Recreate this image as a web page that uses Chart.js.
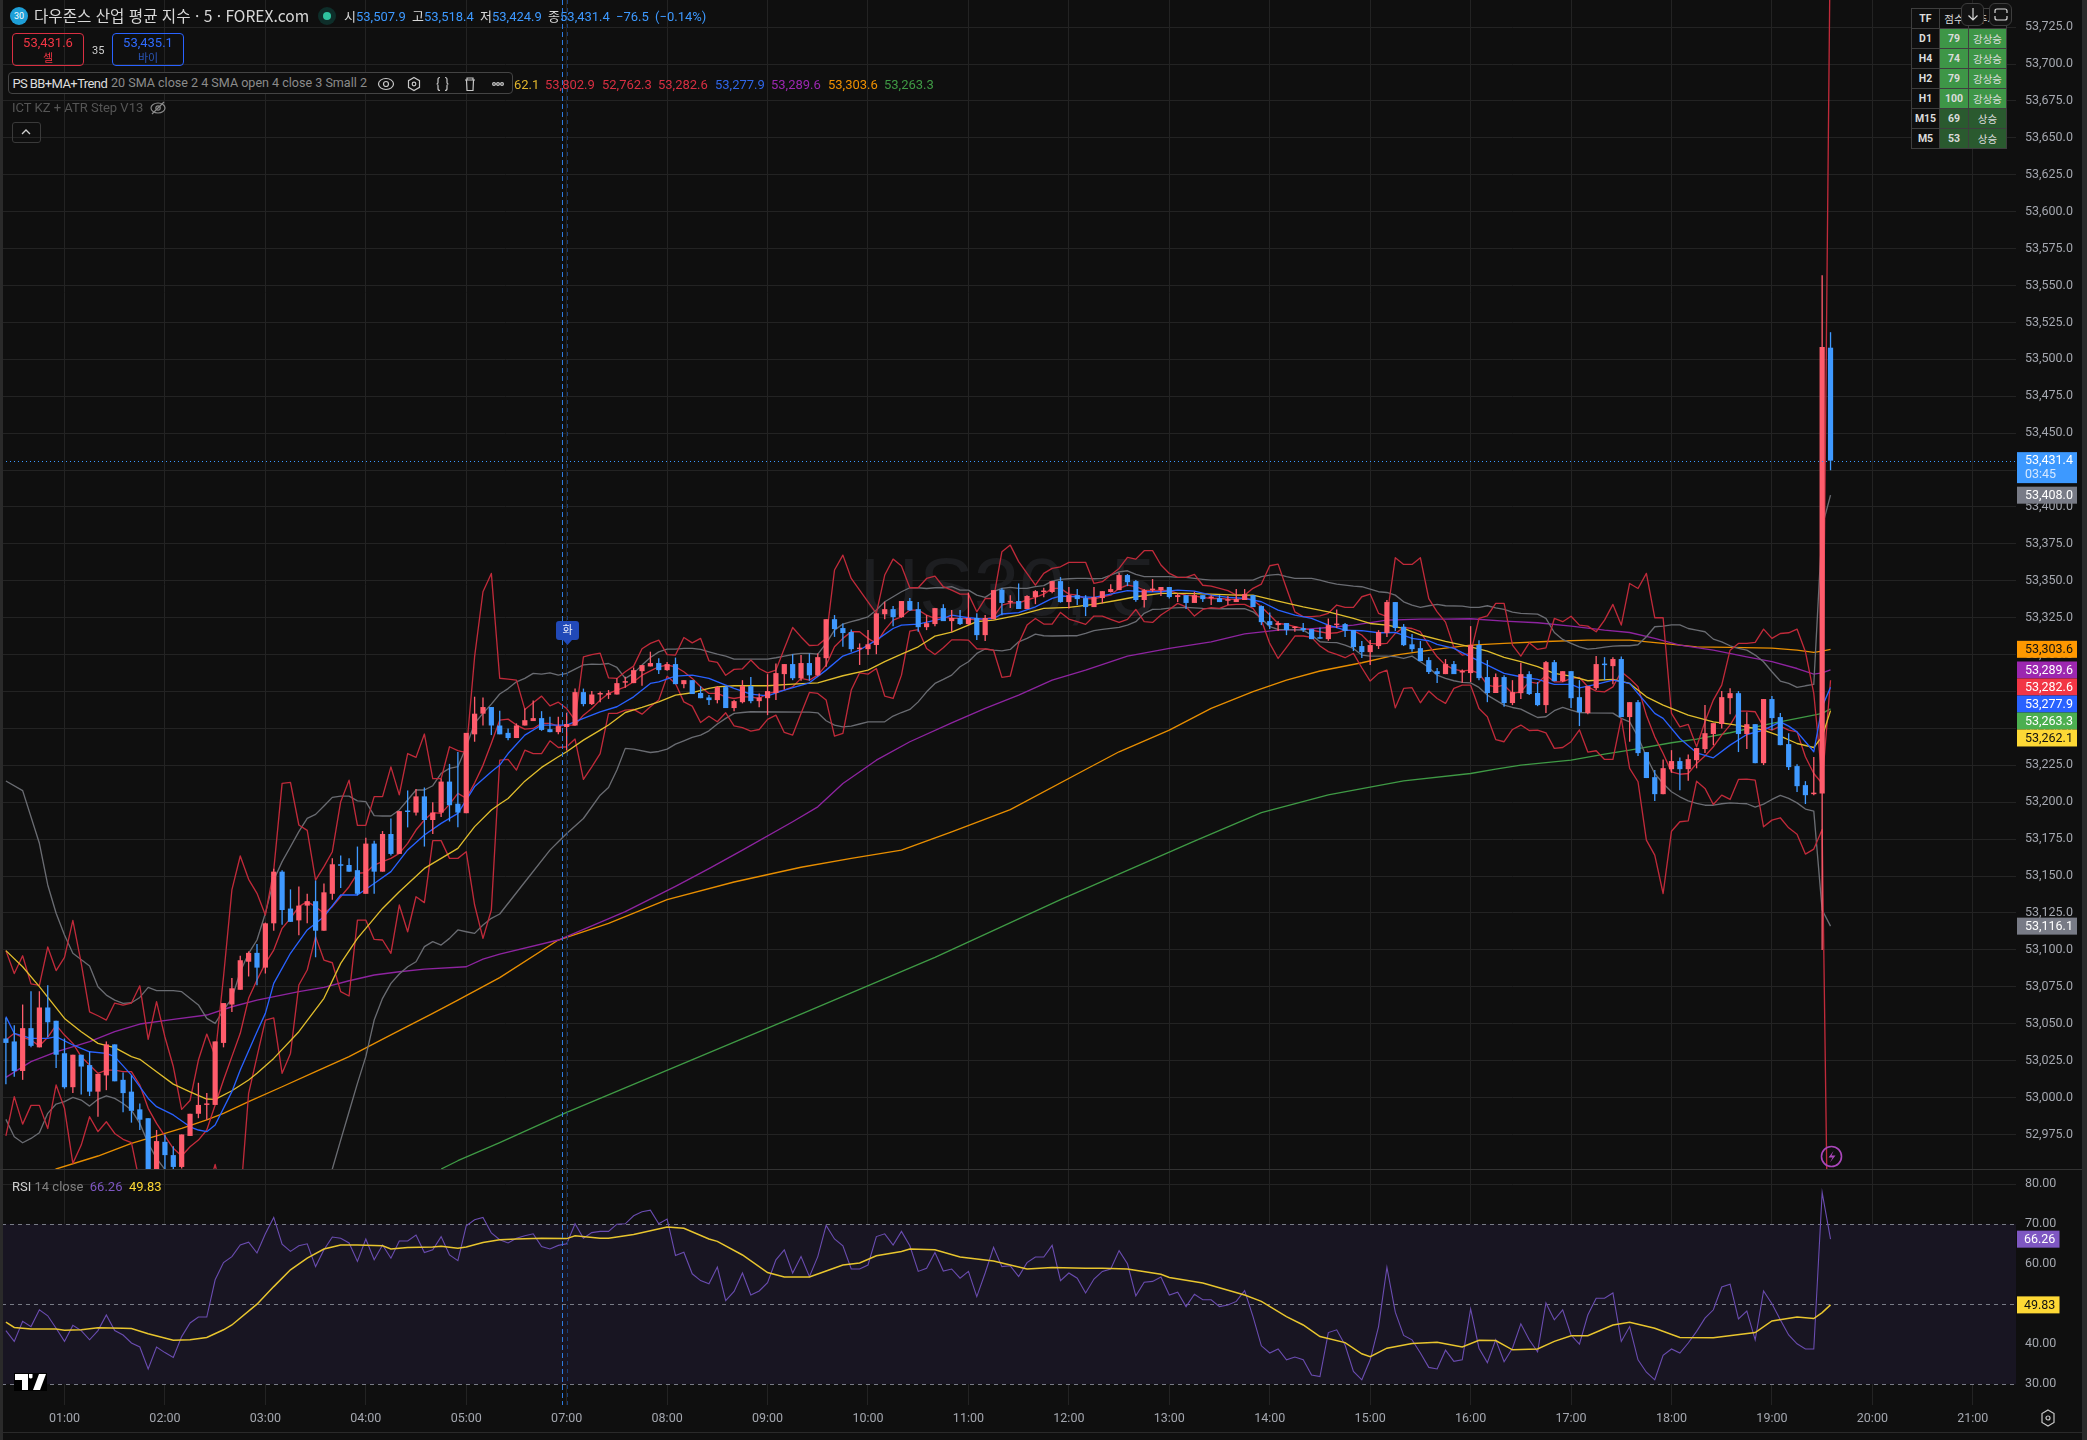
<!DOCTYPE html>
<html lang="ko">
<head>
<meta charset="utf-8">
<title>US30, 5</title>
<script src="https://cdn.jsdelivr.net/npm/chart.js@4"></script>
<style>
  html, body { margin: 0; padding: 0; background: #0f0f0f; }
  #page { position: relative; width: 2087px; height: 1440px; overflow: hidden; background: #0f0f0f;
          font-family: Roboto, "Noto Sans CJK KR", sans-serif; }
  #page > * { position: absolute; }
  canvas { display: block; }
  .t { white-space: nowrap; line-height: 1; }
  .blue { color: #3d99ff; }
  .w { color: #d8d8d8; }
  #watermark { left: 0; width: 2016px; top: 540px; text-align: center; font: 82px "Liberation Sans", sans-serif; color: #1d1e21; }
  #priceBox { left: 0; top: 0; }
  #rsiBox { left: 0; top: 1169px; }
  .quote { box-sizing: border-box; width: 72px; height: 33px; top: 33px; border-radius: 4px; border: 1px solid; text-align: center; font-size: 13px; line-height: 15px; padding-top: 1px; }
  #tfTable { left: 1911px; top: 8px; border-collapse: collapse; font: bold 10.5px Roboto, "Noto Sans CJK KR", sans-serif; color: #dcdcdc; background: #0f0f0f; }
  #tfTable td { border: 1px solid #3e3e3e; height: 19px; padding: 0; text-align: center; }
  .tvBtn { box-sizing: border-box; width: 23px; height: 23px; top: 3px; background: #131313; border: 1px solid #3d3d3d; border-radius: 6px; }
  .edge { background: #2a2a2a; }
</style>
</head>
<body>
<div id="page">
  <div id="watermark">US30, 5</div>
  <canvas id="priceBox" width="2087" height="1169"></canvas>
  <canvas id="rsiBox" width="2087" height="271"></canvas>

  <div class="edge" style="left:0;top:0;width:3px;height:1440px"></div>
  <div class="edge" style="left:2082px;top:0;width:5px;height:1440px"></div>
  <div class="edge" style="left:0;top:1432px;width:2087px;height:1px"></div>
  <div style="left:0;top:1169px;width:2082px;height:1px;background:#333"></div>

  <div style="left:10px;top:7px;width:18px;height:18px;border-radius:50%;background:#1e9fd8;color:#fff;font-size:9px;line-height:18px;text-align:center">30</div>
  <div class="t w" style="left:34px;top:8px;font-size:15.6px;font-family:'Noto Sans CJK KR'">다우존스 산업 평균 지수 · 5 · FOREX.com</div>
  <div style="left:318px;top:7px;width:18px;height:18px;border-radius:50%;background:#0e2e2a"></div>
  <div style="left:323px;top:12px;width:8px;height:8px;border-radius:50%;background:#2ec4a0"></div>
  <div class="t w" style="left:344px;top:10px;font-size:13px;word-spacing:3px;font-family:Roboto,'Noto Sans CJK KR'">시<span class="blue">53,507.9</span> 고<span class="blue">53,518.4</span> 저<span class="blue">53,424.9</span> 종<span class="blue">53,431.4</span> <span class="blue">−76.5 (−0.14%)</span></div>

  <div class="quote" style="left:12px;border-color:#d92f42;color:#f23645">53,431.6<br><span style="font-size:11px;font-family:'Noto Sans CJK KR'">셀</span></div>
  <div class="t" style="left:92px;top:45px;font-size:11px;color:#d0d0d0">35</div>
  <div class="quote" style="left:112px;border-color:#2962ff;color:#2f6bff">53,435.1<br><span style="font-size:11px;font-family:'Noto Sans CJK KR';color:#2a55b8">바이</span></div>

  <div style="left:8px;top:72px;width:505px;height:22px;box-sizing:border-box;border:1px solid #444;border-radius:4px;background:#0f0f0f"></div>
  <div class="t" style="left:12.500px;top:77px;font-size:13px;letter-spacing:-0.6px;color:#ddd">PS BB+MA+Trend</div>
  <div class="t" style="left:111px;top:77px;font-size:12.55px;color:#8b8b8b">20 SMA close 2 4 SMA open 4 close 3 Small 2</div>
  <svg style="left:376px;top:74px" width="134" height="20" fill="none" stroke="#c8c8c8" stroke-width="1.2">
    <ellipse cx="10" cy="10" rx="7.5" ry="5.5"/><circle cx="10" cy="10" r="2.5"/>
    <path d="M38 3.5l5.5 3.2v6.6L38 16.5l-5.500-3.200V6.700z"/><circle cx="38" cy="10" r="1.800"/>
    <path d="M64 3.500q-2 0-2 2v3q0 1.500-1.500 1.500 1.500 0 1.500 1.500v3q0 2 2 2M69 3.500q2 0 2 2v3q0 1.500 1.500 1.500-1.500 0-1.500 1.500v3q0 2-2 2"/>
    <path d="M89 6h10M91 6V4h6v2M90.500 6l.5 10.500h6l.5-10.500"/>
    <circle cx="118" cy="10" r="1.400"/><circle cx="122" cy="10" r="1.400"/><circle cx="126" cy="10" r="1.400"/>
  </svg>
  <div class="t" style="left:514px;top:78px;font-size:13px;color:#e0b52c">62.1</div>
  <div class="t" style="left:545px;top:78px;font-size:13px;color:#d92f42">53,802.9</div>
  <div class="t" style="left:602px;top:78px;font-size:13px;color:#d92f42">52,762.3</div>
  <div class="t" style="left:658px;top:78px;font-size:13px;color:#d92f42">53,282.6</div>
  <div class="t" style="left:715px;top:78px;font-size:13px;color:#2f66e8">53,277.9</div>
  <div class="t" style="left:771px;top:78px;font-size:13px;color:#9c27b0">53,289.6</div>
  <div class="t" style="left:828px;top:78px;font-size:13px;color:#ef9000">53,303.6</div>
  <div class="t" style="left:884px;top:78px;font-size:13px;color:#3f9a45">53,263.3</div>

  <div class="t" style="left:12px;top:101px;font-size:13px;color:#555">ICT KZ + ATR Step V13</div>
  <svg style="left:149px;top:99px" width="18" height="18" fill="none" stroke="#8a8a8a" stroke-width="1.2">
    <ellipse cx="9" cy="9" rx="7" ry="5"/><circle cx="9" cy="9" r="2.200"/><path d="M3 15L15 3"/>
  </svg>
  <div style="left:12px;top:122px;width:29px;height:21px;box-sizing:border-box;border:1px solid #3a3a3a;border-radius:3px"></div>
  <svg style="left:20px;top:127px" width="12" height="10" fill="none" stroke="#d0d0d0" stroke-width="1.300"><path d="M2 7l4-4 4 4"/></svg>

  <table id="tfTable"></table>
  <div class="tvBtn" style="left:1961px"></div>
  <svg style="left:1966px;top:6px" width="14" height="16" fill="none" stroke="#d8d8d8" stroke-width="1.200"><path d="M7 2v12M2.500 9.500L7 14l4.500-4.500"/></svg>
  <div class="tvBtn" style="left:1989px"></div>
  <svg style="left:1994px;top:8px" width="14" height="13" fill="none" stroke="#d8d8d8" stroke-width="1.200"><path d="M1 5V3q0-2 2-2h8q2 0 2 2v2M1 8v2q0 2 2 2h8q2 0 2-2V8"/></svg>

  <svg style="left:556px;top:621px" width="23" height="25"><path d="M3 0h17q3 0 3 3v13q0 3-3 3h-4l-4.500 5L7 19H3q-3 0-3-3V3q0-3 3-3z" fill="#2149b8"/></svg>
  <div class="t" style="left:556px;top:624px;width:23px;text-align:center;font-size:11px;font-family:'Noto Sans CJK KR';color:#e8ecf8">화</div>

  <svg style="left:1820px;top:1145px" width="23" height="23" fill="none" stroke="#ab47bc" stroke-width="1.600">
    <circle cx="11.500" cy="11.500" r="10"/><path d="M13.500 6l-5 6.500h4l-2.500 5 5.500-7h-4z" fill="#ab47bc" stroke="none"/>
  </svg>

  <div class="t" style="left:12px;top:1180px;font-size:13px;color:#d0d0d0">RSI <span style="color:#808080">14 close</span>&nbsp; <span style="color:#7e57c2">66.26</span>&nbsp; <span style="color:#fdd835">49.83</span></div>

  <svg style="left:14px;top:1373px" width="33" height="18"><rect width="33" height="18" fill="#000"/>
    <path d="M1 1h13v16H8V7H1zM15 1h3.500v3.500a2 2 0 0 1-3.500 0zM25 1h7l-6 16h-7z" fill="#fff"/></svg>

  <svg style="left:2039px;top:1408px" width="18" height="20" fill="none" stroke="#c8c8c8" stroke-width="1.200">
    <path d="M9 2l6 3.500 0 9L9 18l-6-3.500 0-9z"/><circle cx="9" cy="10" r="2"/>
  </svg>
</div>

<script>
// time axis: one slot per 5 minute bar
const hourBars = [7, 19, 31, 43, 55, 67, 79, 91, 103, 115, 127, 139, 151, 163, 175, 187, 199, 211, 223, 235];
const hourLabels = ['01:00', '02:00', '03:00', '04:00', '05:00', '07:00', '08:00', '09:00', '10:00', '11:00', '12:00', '13:00', '14:00', '15:00', '16:00', '17:00', '18:00', '19:00', '20:00', '21:00'];

const priceTicks = [52975, 53000, 53025, 53050, 53075, 53100, 53125, 53150, 53175, 53200, 53225, 53250, 53275, 53300, 53325, 53350, 53375, 53400, 53425, 53450, 53475, 53500, 53525, 53550, 53575, 53600, 53625, 53650, 53675, 53700, 53725];
const rsiTicks = [30, 40, 50, 60, 70, 80];
const rsiDashed = [70, 50, 30];

const opens = [
  53040,53038,53018,53047,53034,53061,53052,53030,53007,53029,
  53022,53004,53015,53036,53012,53004,52992,52986,52948,52970,
  52961,52953,52974,52989,52995,52995,53037,53063,53073,53092,
  53098,53088,53118,53153,53128,53120,53130,53133,53113,53138,
  53158,53157.5,53154,53138,53172,53153,53178.5,53165,53194,53193,
  53204,53188,53193,53214,53199,53192.6,53246,53260,53264.5,53252,
  53247,53243.5,53252,53255,53257,53249.5,53247.5,53251,53252,53274.6,
  53266.5,53273,53272.8,53273,53281,53280.7,53288.8,53292,53294.3,53289.5,
  53293.6,53280,53282.7,53274,53271,53269.2,53278,53263.8,53267.8,53278.7,
  53268.5,53270.5,53274,53286.8,53293.6,53284,53294.3,53286,53297.6,53324,
  53318,53315.3,53303.7,53303.7,53306.5,53327.4,53330.8,53325.4,53336.3,53330.8,
  53318.6,53320.7,53331.5,53322.7,53324.8,53320.7,53324.8,53313.2,53324,53344,
  53335.4,53336.3,53330.9,53339,53342.4,53342.4,53349.8,53335.6,53340.3,53338.3,
  53332.2,53338.3,53342.4,53343.7,53353.9,53349.8,53337,53343.7,53343.7,53345.8,
  53339,53340.3,53335,53340.3,53338.3,53338.3,53336.5,53335.6,53337,53340.3,
  53332.9,53322.7,53320,53321.4,53318,53318,53317.3,53311.2,53310.5,53320,
  53320.7,53316.6,53305.8,53301.7,53305.8,53314.6,53335.6,53318.9,53307,53304.4,
  53296.3,53288.8,53286.8,53293.6,53287.9,53287.5,53306.5,53284.8,53274,53284.8,
  53267.2,53273.9,53286.8,53274,53265.8,53294.9,53282,53288.8,53271.2,53260.4,
  53277.3,53293.6,53292.2,53297,53257.7,53267.8,53234,53217,53205.5,53222.4,
  53227.9,53222.4,53228.5,53236,53246.2,53253,53270.5,53273.9,53246.2,53252.9,
  53226.5,53269.9,53257.7,53239.4,53224.5,53211.6,53205.5,53206,53507.9
];
const closes = [
  53037,53018,53047,53035,53061,53051,53029,53007,53029,53021,
  53004,53016,53036,53011,53003,52991,52985,52945,52970.5,52961,
  52953,52975,52989,52995,52995.4,53038,53064,53074,53093,53098,
  53088,53118,53153,53127,53119,53130,53133,53113,53139,53158,
  53157,53153,53138,53172,53153,53178.5,53165,53194,53193.4,53204,
  53188,53193,53214,53198,53193,53247,53260,53264.5,53252,53246,
  53243.5,53252,53255.6,53257,53249,53247.5,53251.6,53253,53274.6,53266.5,
  53273,53274,53273.2,53280.7,53281.4,53289.5,53292.9,53294.3,53289.5,53293.6,
  53280,53282.7,53273.3,53270.5,53269.2,53278,53263.8,53268.5,53278.7,53268.5,
  53271,53275.3,53287.5,53293.6,53284,53294.3,53286,53298.3,53324,53317.3,
  53314.6,53303.7,53304.4,53307,53328,53330.8,53325.4,53336.3,53330,53318.6,
  53321.3,53331.5,53322.7,53324.8,53320.7,53324.8,53313.2,53324.8,53343.7,53335,
  53336.3,53330.9,53339.7,53343,53343.3,53349.8,53335.6,53340.3,53337.6,53332.2,
  53339,53343,53344.4,53353.9,53349.1,53337,53343.7,53344.2,53345.8,53339,
  53340.3,53335,53340.3,53337.6,53338.8,53335.6,53337,53337.6,53341,53332.2,
  53322,53320,53321.4,53316.6,53318.4,53316.6,53310.5,53310.8,53320,53320.5,
  53316,53305.1,53301.7,53306.5,53315.3,53335.6,53318,53306.4,53303.7,53295.6,
  53288.2,53286.8,53293.6,53286.8,53288.5,53306.5,53284.1,53274,53284.8,53267.2,
  53274.6,53286.8,53273.3,53265.8,53294.9,53282,53288.8,53270.5,53261,53278.7,
  53293.6,53292.9,53297,53257.7,53267.8,53233.3,53216.4,53205.5,53223.1,53227.9,
  53222.4,53229.2,53236.7,53246.8,53253.6,53271.2,53273.9,53246.2,53252.9,53226.5,
  53269.9,53257,53238.7,53223.8,53210.9,53204.8,53206.2,53508.3,53431.4
];
const highs = [
  53054,53049,53063,53072,53072,53076,53052,53040,53029,53029,
  53031,53016,53038,53036,53017,53015,52996,52986,52978,52975,
  52967,52975,52989,53010,53003,53038,53064,53081,53096,53099,
  53104,53118.5,53155,53154,53141,53143,53138,53147,53145,53162,
  53164,53162,53170,53176,53174,53180.5,53189,53194,53208,53209,
  53210,53200,53216,53226,53234,53247,53271.5,53271,53264.5,53262,
  53250,53253.4,53263.5,53269,53261.7,53258,53258,53260.6,53277,53277,
  53275.3,53275,53276,53284,53285,53291.3,53292.9,53302,53297.6,53295,
  53298,53282.7,53282.7,53278.7,53272.6,53278.7,53278.7,53269.2,53282.7,53284.8,
  53273.7,53286.8,53294,53293.6,53300.3,53299.7,53300.8,53300.8,53324,53326.8,
  53321,53317,53307.6,53316.6,53328,53335.8,53332.9,53336.3,53338.3,53335.6,
  53326.8,53331.5,53334.2,53330.2,53330.2,53342,53328,53326.8,53343.7,53344.9,
  53340.3,53348.2,53340.3,53343.7,53345.3,53349.8,53352.5,53345.8,53344.4,53340.3,
  53345.8,53343,53347.6,53355.5,53354.6,53350.5,53344.4,53351.2,53345.8,53345.8,
  53341.5,53340.3,53342.6,53340.3,53340.3,53340.3,53339.7,53344.4,53344.4,53340.3,
  53333.3,53328.6,53322.7,53321.4,53319.3,53321.4,53317.3,53318.4,53324.5,53330.6,
  53321.4,53316.6,53309.2,53309.9,53316.6,53337,53335.6,53320.7,53313.9,53309.2,
  53298.3,53290.9,53297,53295.6,53290,53319.3,53309.8,53296.3,53287.3,53286.1,
  53282.7,53294.5,53288.8,53281.4,53295.6,53296.3,53288.8,53288.8,53282.7,53278.7,
  53299,53298.3,53298.3,53298.8,53267.8,53269.2,53234,53221.8,53229,53235.3,
  53230.4,53232.4,53236.7,53265.8,53253.6,53275.3,53277.3,53275.3,53261,53252.9,
  53269.9,53271.9,53260.4,53246.8,53225.8,53214.3,53230.6,53557,53518.4
];
const lows = [
  53009,53014,53012,53034,53034,53041,53020,53006,53003,53002,
  53001,52987,53005,53011,52990,52983,52978,52940,52940,52945,
  52948,52952,52974,52986,52985,52995,53034,53058,53073,53082,
  53076,53084,53113,53117,53119,53110,53118,53095,53113,53134,
  53142,53153,53137,53138,53138,53153,53164,53165,53183,53191,
  53170,53178.5,53190,53187,53183,53192.6,53241,53252,53245.5,53246,
  53242,53243.5,53252,53255,53248.4,53247.5,53246,53235,53252,53265,
  53265.8,53267.8,53270,53273,53277.5,53280.7,53279,53292,53286.8,53289,
  53280,53277.3,53273.3,53270.5,53265.8,53267,53263.8,53261.7,53267,53267,
  53264.4,53259,53269.2,53276.4,53282.7,53282.3,53282.3,53285.4,53291.8,53312,
  53305.3,53302,53293,53299.7,53300.3,53324,53319.3,53325,53329.5,53315.5,
  53316.6,53319.3,53322.7,53315.5,53320,53320,53309.9,53309.2,53324,53326.6,
  53331.5,53330.9,53330.9,53334.2,53338.8,53341.5,53335.2,53331.3,53333.6,53326.1,
  53332.2,53334.7,53342,53343.7,53346.4,53335.8,53332,53342.4,53339.7,53338,
  53335.6,53330.9,53335,53335.6,53333.6,53335.6,53333.6,53335.6,53337,53332.2,
  53320,53317.3,53316,53313.2,53315.5,53315.3,53310.5,53310.8,53309.4,53318,
  53312,53302.4,53297.7,53293,53303.8,53311.9,53316,53305.8,53301.9,53295.6,
  53286.8,53280.7,53286.8,53286.8,53281,53281.4,53282.7,53267.8,53274,53264.7,
  53265.8,53269.9,53272.6,53265.1,53260.4,53282,53281.4,53263.8,53251.6,53259.7,
  53276,53282.7,53280,53257.7,53241,53231.3,53216.4,53200.8,53205.5,53220,
  53208.2,53214.5,53223,53233.3,53238.7,53250,53259.7,53234,53236,53226.5,
  53225.2,53248.9,53238.7,53221.8,53206.9,53198.8,53204.8,53100,53424.9
];

const redUpper = [[0,53099.5],[1,53084],[2,53096],[3,53077],[4,53076],[5,53102],[6,53086],[7,53095],[8,53120],[9,53091],[10,53058],[11,53055.4],[12,53052.5],[13,53064],[14,53062.6],[15,53064],[16,53075.7],[17,53039.4],[18,53065],[19,53041],[20,53021],[21,52992],[22,52998],[23,53025.4],[24,53043],[25,53028],[26,53081.8],[27,53140.6],[28,53163.6],[29,53147.8],[30,53138.3],[31,53123.6],[32,53154],[33,53212.8],[34,53213.5],[35,53184.6],[36,53181],[37,53147.3],[38,53156.4],[39,53166.5],[40,53200.4],[41,53215],[42,53184.4],[43,53184.4],[44,53203.8],[45,53203.8],[46,53224],[47,53205],[48,53233],[49,53230.4],[50,53246.2],[51,53216],[52,53216],[53,53237.6],[54,53235],[55,53233.6],[56,53298.6],[57,53342.6],[58,53355],[59,53284],[60,53283.4],[61,53282.7],[62,53262.9],[63,53267.4],[64,53271.9],[65,53265.3],[66,53267.8],[67,53263.5],[68,53255.6],[69,53298.5],[70,53300],[71,53301],[72,53284.3],[73,53283.9],[74,53288.4],[75,53292.2],[76,53304],[77,53307.6],[78,53309.8],[79,53300],[80,53299.7],[81,53311.6],[82,53308],[83,53311],[84,53295.8],[85,53294.7],[86,53286],[87,53290],[88,53290.4],[89,53296.3],[90,53290.6],[91,53287.7],[92,53289.5],[93,53304.2],[94,53318.4],[95,53312],[96,53306.2],[97,53306.4],[98,53311],[99,53357.3],[100,53367.4],[101,53351.6],[102,53343.7],[103,53335.8],[104,53327.9],[105,53353.9],[106,53364.7],[107,53360],[108,53345.3],[109,53345.3],[110,53351.6],[111,53353.2],[112,53346],[113,53343.7],[114,53341],[115,53341],[116,53329],[117,53338],[118,53338],[119,53369.7],[120,53374.2],[121,53363],[122,53355],[123,53347],[124,53355],[125,53358.4],[126,53359.5],[127,53362.5],[128,53362.5],[129,53362.5],[130,53348.2],[131,53349.4],[132,53354],[133,53358.4],[134,53365.9],[135,53364.7],[136,53370.4],[137,53370.4],[138,53360.7],[139,53355],[140,53352.3],[141,53352.3],[142,53354.3],[143,53347],[144,53346.4],[145,53344.9],[146,53343.3],[147,53340.3],[148,53340.3],[149,53344.9],[150,53347.8],[151,53360.2],[152,53361.3],[153,53344.9],[154,53329],[155,53325.7],[156,53325.7],[157,53326.3],[158,53328],[159,53333.6],[160,53332],[161,53332],[162,53339.2],[163,53341],[164,53328],[165,53325.7],[166,53365.6],[167,53361.1],[168,53361.1],[169,53365.6],[170,53338],[171,53329],[172,53322],[173,53305],[174,53299.7],[175,53300.8],[176,53324.5],[177,53326.3],[178,53334.7],[179,53334.7],[180,53306.4],[181,53299],[182,53308],[183,53303.5],[184,53304.6],[185,53324.5],[186,53322.3],[187,53326],[188,53320],[189,53319.3],[190,53315.5],[191,53323.4],[192,53334],[193,53320],[194,53348.2],[195,53344.8],[196,53355],[197,53325],[198,53325],[199,53260.2],[200,53251.1],[201,53252.7],[202,53237.6],[203,53254.5],[204,53269.2],[205,53279.3],[206,53303],[207,53307.6],[208,53307.6],[209,53308.3],[210,53317.3],[211,53311],[212,53314.3],[213,53314.8],[214,53317.3],[215,53302],[216,53273.7],[217,53215],[218,53802.9]];
const redLower = [[0,52974],[1,53000.6],[2,52982],[3,52994.7],[4,52994.7],[5,52979],[6,53008.5],[7,52992.7],[8,52955.4],[9,52967.8],[10,52987],[11,52976.9],[12,52983.6],[13,52975.7],[14,52971.7],[15,52969.4],[16,52942],[17,52954],[18,52940],[19,52930],[20,52925],[21,52925],[22,52930],[23,52932],[24,52935],[25,52954.7],[26,52930],[27,52925],[28,52930],[29,53002.8],[30,53027.7],[31,53052.5],[32,53054],[33,53016.4],[34,53029.9],[35,53076.2],[36,53086.4],[37,53109],[38,53093.1],[39,53091.3],[40,53071.7],[41,53068.8],[42,53120.2],[43,53120.2],[44,53107.1],[45,53106.7],[46,53097.7],[47,53130.4],[48,53112.3],[49,53136],[50,53132],[51,53174],[52,53174],[53,53162],[54,53162],[55,53166.5],[56,53130.4],[57,53107.8],[58,53127],[59,53228.5],[60,53229],[61,53221.8],[62,53235.3],[63,53233],[64,53233],[65,53241.6],[66,53237.1],[67,53237.6],[68,53242.8],[69,53215.5],[70,53224],[71,53233],[72,53260.2],[73,53260.2],[74,53262.4],[75,53262.9],[76,53259.7],[77,53264.7],[78,53269.2],[79,53285.4],[80,53280.5],[81,53268],[82,53265.1],[83,53254],[84,53258.3],[85,53254.5],[86,53260.6],[87,53251.8],[88,53250.5],[89,53248.2],[90,53249.3],[91,53256.1],[92,53259],[93,53247.3],[94,53245.5],[95,53260.2],[96,53274.4],[97,53273.7],[98,53269.2],[99,53244.8],[100,53246.6],[101,53276],[102,53287.7],[103,53286.8],[104,53290.6],[105,53271.9],[106,53270.3],[107,53286.1],[108,53315.9],[109,53317],[110,53304.2],[111,53300.1],[112,53304.6],[113,53310],[114,53310],[115,53309.8],[116,53304],[117,53303.8],[118,53303],[119,53284.6],[120,53285.5],[121,53307.6],[122,53320],[123,53324.5],[124,53320.7],[125,53320.7],[126,53328.6],[127,53324.1],[128,53322.3],[129,53320.5],[130,53326.1],[131,53326.1],[132,53323.9],[133,53321.8],[134,53323.9],[135,53330.6],[136,53322.3],[137,53321.8],[138,53326.8],[139,53330.6],[140,53334.7],[141,53332.4],[142,53326.1],[143,53330.6],[144,53331.8],[145,53331.3],[146,53333.6],[147,53334],[148,53334],[149,53331.3],[150,53323.4],[151,53307.6],[152,53297.4],[153,53304.9],[154,53312.6],[155,53312.6],[156,53311.7],[157,53305.8],[158,53302],[159,53300.2],[160,53297.9],[161,53300.8],[162,53291.1],[163,53282.1],[164,53287.3],[165,53289.5],[166,53264],[167,53277.1],[168,53277.6],[169,53267.4],[170,53275.3],[171,53270.3],[172,53267],[173,53277.1],[174,53279.3],[175,53279.3],[176,53263.5],[177,53257.9],[178,53242.5],[179,53241],[180,53249.3],[181,53252.3],[182,53248.6],[183,53248.9],[184,53247],[185,53236.5],[186,53237.1],[187,53241],[188,53249.1],[189,53234],[190,53234.9],[191,53229],[192,53229],[193,53256.8],[194,53222.9],[195,53213.9],[196,53174.4],[197,53164.2],[198,53138.2],[199,53180.4],[200,53186.8],[201,53187.4],[202,53214.3],[203,53209.4],[204,53198.5],[205,53204.8],[206,53201.9],[207,53215.5],[208,53215.7],[209,53215],[210,53183.4],[211,53187.9],[212,53189.5],[213,53182.7],[214,53178.4],[215,53164.9],[216,53168.3],[217,53181.6],[218,52762.3]];
const redMiddle = [[0,53039],[1,53043.5],[2,53040.8],[3,53039],[4,53034.9],[5,53040.8],[6,53049.1],[7,53042.3],[8,53036.7],[9,53027.7],[10,53022],[11,53016.4],[12,53018.6],[13,53018.6],[14,53017.5],[15,53017.5],[16,53008.5],[17,52992.7],[18,52982.5],[19,52973.9],[20,52965.6],[21,52960.4],[22,52966.7],[23,52971.2],[24,52978],[25,52994.9],[26,53011.9],[27,53027.7],[28,53043.5],[29,53067.2],[30,53079.6],[31,53090.9],[32,53099.9],[33,53114.6],[34,53121.4],[35,53129.3],[36,53132.7],[37,53129.3],[38,53124.8],[39,53129.3],[40,53136],[41,53142.8],[42,53151.9],[43,53152.3],[44,53157.5],[45,53159.8],[46,53162],[47,53165.4],[48,53172.2],[49,53181.2],[50,53188],[51,53193],[52,53192.5],[53,53198.6],[54,53206],[55,53202.7],[56,53213],[57,53225],[58,53240],[59,53255.6],[60,53256.3],[61,53252.3],[62,53249.5],[63,53250],[64,53253.4],[65,53253.4],[66,53251.6],[67,53252.3],[68,53252.3],[69,53259],[70,53263.5],[71,53269.2],[72,53273.7],[73,53276],[74,53278.2],[75,53281.6],[76,53286.1],[77,53289],[78,53291.8],[79,53292.9],[80,53291.8],[81,53288.4],[82,53283.9],[83,53278.2],[84,53273.7],[85,53273.7],[86,53271.4],[87,53270.3],[88,53271.4],[89,53271.4],[90,53270.3],[91,53273.7],[92,53274.8],[93,53276],[94,53278.2],[95,53283.9],[96,53282.7],[97,53286.1],[98,53292.9],[99,53305.3],[100,53311],[101,53315.5],[102,53315.5],[103,53311],[104,53307.6],[105,53316.6],[106,53323.4],[107,53325.6],[108,53330.2],[109,53330.2],[110,53326.8],[111,53324.5],[112,53325.6],[113,53324.5],[114,53324.5],[115,53324.3],[116,53323.4],[117,53324.1],[118,53325.6],[119,53333.6],[120,53335.1],[121,53335.1],[122,53337],[123,53338.8],[124,53341],[125,53344.9],[126,53344.9],[127,53341],[128,53340.3],[129,53338],[130,53337.8],[131,53339.2],[132,53340.3],[133,53344.9],[134,53347.1],[135,53346],[136,53343.7],[137,53343.3],[138,53343.7],[139,53343.3],[140,53341.5],[141,53340.3],[142,53339.7],[143,53338.8],[144,53338],[145,53338],[146,53337.6],[147,53337.4],[148,53338],[149,53337],[150,53332.4],[151,53326.8],[152,53321.1],[153,53320.5],[154,53318.9],[155,53317.8],[156,53316.6],[157,53315.5],[158,53314.4],[159,53314.8],[160,53316.6],[161,53316.2],[162,53313.3],[163,53307.6],[164,53307.2],[165,53307.6],[166,53314.4],[167,53318.4],[168,53317.7],[169,53315.5],[170,53306.4],[171,53298.5],[172,53292.9],[173,53290],[174,53289],[175,53289.5],[176,53287.3],[177,53279.3],[178,53278.2],[179,53279.3],[180,53273.7],[181,53274.8],[182,53281.6],[183,53280.5],[184,53286.1],[185,53281.6],[186,53281.6],[187,53283.9],[188,53284.5],[189,53278.2],[190,53275.3],[191,53274.8],[192,53278.2],[193,53288.4],[194,53283.9],[195,53278.2],[196,53259],[197,53244.3],[198,53233],[199,53220.6],[200,53219],[201,53219.5],[202,53226.3],[203,53231.3],[204,53237.6],[205,53245.5],[206,53252.3],[207,53261.7],[208,53261.7],[209,53261.3],[210,53251.1],[211,53248.9],[212,53251.6],[213,53248.9],[214,53247.7],[215,53230.8],[216,53219.5],[217,53212.7],[218,53282.6]];
const grayUpper = [[0,53214.4],[2,53207.9],[4,53172.2],[5,53144],[6,53124.8],[7,53110.1],[8,53097.7],[10,53089.1],[11,53075.1],[12,53069.4],[13,53066],[14,53063.8],[15,53064.2],[16,53067.8],[17,53074.6],[18,53072.4],[20,53072.4],[21,53071.7],[23,53062.7],[24,53053.6],[25,53050.2],[26,53059.3],[27,53067.2],[28,53085.2],[29,53097.7],[30,53106.7],[31,53124.8],[32,53147.3],[33,53159.8],[34,53169.9],[35,53180.1],[36,53189.1],[37,53191.8],[38,53197.5],[39,53203.3],[40,53204.2],[41,53204.2],[42,53200.9],[43,53200.4],[44,53190.9],[45,53190.7],[46,53190.7],[47,53194.8],[48,53201.5],[49,53208.3],[50,53208.3],[51,53211.2],[52,53219.6],[53,53223],[54,53224.1],[55,53237.6],[56,53253.5],[57,53260.2],[58,53266.5],[59,53273.3],[60,53277],[61,53281.6],[62,53283.9],[63,53287.3],[64,53286.8],[65,53287.7],[66,53286.1],[67,53287.3],[68,53290.2],[69,53293.1],[70,53293.6],[71,53293.4],[72,53294],[73,53291.3],[74,53283.9],[75,53287.3],[76,53292.9],[77,53298.1],[78,53301.9],[79,53303.7],[80,53303.7],[81,53304.2],[82,53304.2],[83,53303.5],[84,53301.9],[85,53300.3],[86,53299],[87,53297],[91,53297],[92,53297.9],[93,53299],[94,53300.1],[95,53300.8],[96,53300.8],[97,53300.3],[98,53307.6],[99,53316.6],[100,53320.7],[101,53322.3],[102,53323.8],[103,53325.6],[104,53330.2],[105,53335.8],[106,53339.2],[107,53342.6],[108,53345.3],[109,53345.3],[110,53344.8],[111,53345.3],[112,53345.3],[113,53346],[114,53343.7],[115,53343.7],[116,53340.3],[117,53338.8],[118,53342.6],[119,53344.9],[120,53345.5],[121,53344.9],[122,53344.9],[123,53346],[124,53346.7],[125,53349.8],[126,53351],[127,53351.4],[128,53351.6],[129,53351.6],[130,53351.4],[131,53351.6],[132,53353.9],[133,53356.1],[134,53356.8],[135,53354.3],[136,53352.8],[139,53352.8],[140,53352.3],[141,53352.3],[142,53351.6],[143,53351],[144,53350.5],[149,53350.5],[150,53352.8],[151,53353.9],[152,53354.3],[153,53352.8],[154,53351.6],[156,53351.6],[157,53350.5],[158,53348.9],[159,53347.8],[160,53347.1],[161,53346.4],[162,53346],[163,53344.4],[164,53342.6],[165,53342.1],[166,53340.3],[167,53335.8],[168,53333.5],[169,53332],[170,53333.1],[171,53334],[172,53333.1],[174,53332.9],[175,53332],[176,53332],[177,53333.1],[178,53331.7],[179,53330.6],[180,53328.8],[181,53327.9],[183,53327.4],[184,53324.5],[185,53315],[186,53310.3],[187,53307.6],[188,53305.3],[189,53303.7],[190,53304.2],[191,53305.1],[192,53305.8],[193,53306],[194,53306],[195,53306.7],[196,53312.1],[197,53318.9],[198,53319.3],[199,53320.2],[200,53320.2],[201,53317.7],[202,53316.6],[203,53315.5],[204,53310.5],[205,53308.7],[206,53306],[207,53304.2],[208,53303],[209,53299.7],[210,53295.2],[211,53288.4],[212,53282.1],[213,53280.5],[214,53277.8],[215,53278.9],[216,53279.8],[217,53386.7],[218,53408]];
const grayLower = [[0,52985.2],[1,52973.5],[2,52969.4],[3,52972.3],[4,52976.2],[5,52989.3],[6,52995.6],[7,52997.2],[8,53000.1],[9,52998.3],[10,52994.2],[11,52998.8],[12,53001.2],[13,52999.4],[14,52996],[15,52991.5],[16,52982.5],[17,52969],[18,52958.8],[19,52951.3],[20,52935],[30,52880],[38,52930],[39,52951.6],[40,52971.2],[41,52990.4],[42,53009.6],[43,53027.7],[44,53052.5],[45,53067.2],[46,53077.3],[47,53083.7],[48,53088.6],[49,53092],[50,53102.2],[51,53105.6],[52,53103.3],[53,53107.8],[54,53113.5],[55,53112.3],[56,53111.2],[57,53116.9],[58,53121.4],[59,53124.3],[62,53146],[65,53167.6],[66,53173.2],[67,53178.9],[69,53189],[71,53204.8],[72,53210],[73,53221.8],[74,53236.5],[75,53236],[77,53233.7],[78,53234.4],[79,53236],[80,53239.4],[81,53241.6],[82,53243.9],[83,53245.5],[84,53248.4],[85,53253],[86,53256.8],[87,53260.2],[88,53260.8],[89,53261.3],[96,53261],[97,53260.6],[98,53255.2],[99,53252.3],[100,53251.1],[101,53251.6],[102,53253],[103,53254.5],[105,53254.5],[106,53258.4],[107,53260.8],[108,53262.9],[109,53268],[110,53274.8],[111,53280.5],[112,53283.2],[113,53286.1],[114,53291.8],[115,53295.2],[116,53300.8],[117,53303.8],[118,53303.1],[119,53302.6],[120,53303.5],[121,53308.7],[122,53311],[123,53313.9],[124,53312.8],[125,53312.6],[127,53312.8],[128,53312.8],[129,53314.4],[130,53316.2],[131,53317.1],[132,53317.8],[133,53318.4],[134,53320],[135,53322.3],[136,53328],[137,53330.6],[138,53330.8],[139,53331.5],[141,53332],[143,53331.3],[145,53331.1],[148,53331.1],[149,53329],[150,53324.5],[151,53318.9],[152,53317.1],[155,53316.6],[156,53313.2],[157,53308.7],[158,53308.3],[159,53308.1],[160,53306.5],[161,53304.2],[162,53299.7],[163,53299],[165,53299],[166,53298.6],[167,53297.4],[168,53299],[169,53295.2],[170,53291.3],[171,53286.1],[172,53283.9],[173,53282.3],[174,53281.2],[175,53280.9],[176,53277.8],[177,53272.6],[178,53269.2],[179,53265.8],[180,53264.2],[181,53263.1],[182,53260.2],[183,53257.4],[184,53257.9],[185,53262],[186,53264.2],[187,53262.4],[188,53260.8],[189,53260.6],[192,53260.4],[193,53256.8],[194,53254.5],[195,53244.4],[196,53230.8],[197,53219.5],[198,53212.7],[199,53207.1],[200,53203.7],[201,53201],[202,53199.2],[203,53198],[204,53198],[205,53199],[206,53199.6],[207,53199.2],[208,53199],[209,53196.7],[210,53198.7],[211,53201.9],[212,53204.6],[213,53202.6],[214,53199.6],[215,53195.4],[216,53194],[217,53127],[218,53116.1]];
const blueLine = [[0,53054.8],[1,53043.5],[3,53040.1],[5,53040.1],[6,53041.2],[8,53035.6],[10,53031],[12,53029.9],[13,53027.7],[15,53015.2],[17,52999.4],[18,52993.8],[20,52988.2],[22,52980.2],[23,52978],[24,52976.9],[25,52981.4],[27,53004],[28,53018.6],[30,53044.6],[31,53057],[32,53077.3],[34,53097.7],[36,53113.5],[38,53122.5],[40,53137.2],[42,53137.2],[44,53145],[46,53153],[48,53167.7],[50,53177.8],[52,53185.7],[54,53192.5],[56,53210.6],[58,53220.7],[59,53225.2],[60,53233],[62,53245.5],[64,53252.3],[67,53252.3],[69,53256.8],[71,53261.3],[73,53264.7],[75,53271.4],[77,53280.5],[78,53281.6],[80,53285.4],[82,53286.1],[84,53283.9],[86,53279.4],[87,53277.1],[89,53273.3],[91,53272.1],[93,53276],[96,53280.9],[98,53289.5],[100,53299],[102,53303.1],[104,53309.8],[106,53317.7],[107,53320],[109,53320.7],[112,53324.5],[113,53326.8],[115,53325],[117,53324.1],[118,53324.5],[119,53327.5],[121,53328.4],[123,53332.4],[125,53338.1],[126,53339.7],[128,53339.2],[130,53338.8],[132,53341],[134,53343.3],[136,53342.6],[138,53342.6],[140,53343.7],[142,53343],[144,53340.3],[146,53338.8],[148,53338.1],[150,53335.8],[152,53330.2],[154,53326.8],[156,53324.5],[158,53320],[160,53316.6],[162,53316.2],[164,53314.8],[166,53315],[168,53311],[170,53309.4],[171,53306.9],[173,53304.2],[175,53298.5],[177,53292.9],[179,53287.3],[181,53285],[183,53283.2],[184,53281.6],[185,53279.8],[187,53279.8],[188,53277.5],[190,53279.8],[192,53282.7],[194,53280.5],[195,53273.7],[197,53260.2],[198,53256.8],[200,53243.2],[202,53233.5],[204,53230.1],[206,53238.7],[208,53245.9],[210,53248.9],[212,53254.5],[213,53251.6],[214,53247.7],[215,53241],[216,53234.2],[217,53264.7],[218,53277.9]];
const yellowLine = [[0,53099.5],[2,53088.6],[4,53075.1],[7,53053.6],[9,53044.6],[11,53036.7],[13,53033.8],[15,53027.7],[16,53025.9],[18,53017.5],[20,53009.1],[22,53003.9],[24,52999],[25,52998.8],[27,53004.6],[29,53011.9],[30,53016.4],[32,53026.5],[35,53044.6],[38,53067.2],[40,53090.9],[42,53107.8],[45,53128.1],[47,53139.4],[50,53155.2],[54,53168.8],[56,53183.5],[58,53194.8],[59,53198.8],[60,53202.6],[62,53214.3],[64,53223.6],[66,53230.8],[67,53234.2],[69,53242.1],[71,53248.9],[72,53252.3],[74,53260.8],[76,53264.2],[78,53268],[80,53272.6],[82,53274.2],[84,53277.1],[85,53278.2],[87,53278.9],[91,53278.9],[94,53280],[97,53280.9],[100,53285.7],[103,53289.5],[105,53295.2],[107,53300.3],[109,53305.3],[111,53312.5],[113,53315.3],[116,53322.3],[118,53323.4],[121,53326.8],[124,53331.3],[127,53332],[130,53334],[133,53337],[135,53339.2],[138,53341.5],[141,53341.5],[144,53341],[147,53340.3],[149,53340.3],[152,53336.3],[155,53332.4],[158,53329],[161,53324.5],[163,53321.1],[165,53320],[167,53317.8],[169,53313.3],[172,53309],[175,53305.3],[177,53302.4],[179,53298.1],[181,53295.2],[183,53291.8],[185,53287.3],[187,53285.4],[189,53282.3],[192,53283.2],[194,53280.5],[196,53271.4],[198,53265.8],[201,53259],[204,53254.5],[206,53252.9],[208,53251.1],[210,53248.9],[212,53244.8],[214,53239.8],[216,53237.1],[217,53244.4],[218,53262.1]];
const purpleLine = [[0,53013.7],[3,53024.3],[6,53031],[10,53037.8],[13,53044.6],[16,53049.8],[20,53053],[24,53055.9],[27,53061.5],[30,53066],[35,53071.7],[38,53074.6],[41,53079.1],[44,53083],[47,53085.2],[50,53087],[55,53088.6],[57,53093.8],[59,53097.2],[66,53106.7],[74,53125.9],[80,53143],[84,53155],[88,53167.6],[94,53186.8],[97,53196.9],[100,53212.7],[104,53228.5],[108,53241],[113,53253.8],[117,53263.6],[121,53272.6],[125,53282.8],[129,53289.5],[134,53299],[139,53304.2],[144,53308.7],[148,53314],[152,53316.6],[155,53317.1],[158,53318.4],[161,53320],[165,53323.4],[169,53324.1],[172,53324],[175,53324.3],[179,53322.7],[183,53321.6],[187,53319.3],[191,53316.6],[194,53315],[197,53311],[200,53306.4],[204,53303],[208,53298.5],[211,53295.2],[214,53290.6],[216,53286.8],[217,53287.7],[218,53289.6]];
const orangeLine = [[0,52936],[6,52951.6],[11,52960.4],[15,52969],[19,52975.7],[21,52979.1],[24,52984.8],[26,52989.3],[29,52997.2],[33,53007.3],[37,53017.5],[41,53027.7],[46,53042.4],[51,53057],[54,53066],[59,53081.2],[66,53106.7],[72,53118],[79,53134],[87,53146],[95,53156],[101,53162],[107,53167.6],[113,53180],[120,53195],[129,53222.2],[133,53234.2],[139,53248.9],[144,53263.6],[149,53274.9],[153,53282.8],[157,53288.9],[162,53294.5],[166,53299.7],[171,53303.7],[175,53306.4],[179,53307.6],[184,53308.9],[189,53309.8],[194,53309.8],[198,53307.6],[202,53305.3],[206,53304.9],[211,53304.4],[214,53303],[216,53301.5],[217,53302.4],[218,53303.6]];
const greenLine = [[52,52951.6],[54,52957.2],[59,52969.4],[67,52990],[95,53056.5],[111,53095],[126,53134],[142,53173.7],[150,53193],[158,53205],[167,53214.5],[175,53219.5],[178,53222.4],[181,53225.2],[187,53228.5],[191,53232.6],[194,53235.3],[199,53240.3],[202,53242.8],[206,53247.1],[211,53253.4],[216,53259],[217,53260.2],[218,53263.3]];

const rsiValues = [
  43.4,40.7,45.7,44.4,48.6,47.1,44,40.7,44.7,43.4,
  41.1,43.4,47.3,43.4,42.3,40.3,39.3,33.8,39.3,37.9,
  36.7,41.9,45.3,46.8,46.8,56.1,60.4,61.9,64.8,65.5,
  62.8,67.6,71.7,65,63.2,64.6,65.1,59.4,63.6,66.8,
  66.5,65.3,60.7,66.3,61.1,64.8,61.5,65.8,65.8,67.3,
  62.9,63.6,66.9,62.3,60.9,69.6,71.1,71.7,67.8,66.1,
  65.3,66.5,67.1,67.6,64.4,63.8,64.7,65.1,70.1,66.5,
  67.9,68.2,68.2,70,70.1,72.1,73.1,73.5,70.1,71.3,
  62.2,63,57.6,55.9,55.1,59.3,50.9,53.2,57.8,52.3,
  53.3,55.4,61.1,63.6,57.8,61.9,56.9,61.9,69.7,66.3,
  64.6,58.8,58.8,59.8,66.9,67.6,64.8,68.2,64.6,58.2,
  59,62.9,58.3,58.8,56.5,58.2,51.9,57.8,64.2,59.4,
  59.6,56.9,60.4,61.8,61.8,64.7,55.9,57.8,56.5,52.8,
  56.3,58.2,58.8,63.4,60.1,52.1,55.5,55.7,56.8,52.3,
  53,49.4,52.5,51.1,51.1,49.4,49.8,50.7,53.4,46.9,
  39.6,37.8,38.8,36.1,36.8,36.1,32.3,31.9,42.9,43.6,
  39.8,33.2,31.1,36.1,44.4,59.2,48,42.2,41.1,37.8,
  34.2,33.8,38.5,35.7,36.1,48.8,39,35.4,41.1,35.6,
  39,45.1,41.1,38.1,50.3,46.1,48.6,42.3,40,47.3,
  51.5,51.5,52.8,40.7,44.4,36.1,33,31.1,37.2,38.8,
  37.8,40.3,43.2,46.5,48.6,54.3,55,46.3,48.3,41.1,
  53.3,50.1,46.1,42.3,40.1,38.8,38.8,77.9,66.26
];
const rsiAverage = [[0,45.5],[1,44.2],[3,43.8],[6,43.8],[7,43.5],[9,43.6],[11,44.1],[14,44],[15,43.9],[17,42.6],[20,41],[22,41.1],[24,41.7],[26,43.6],[27,44.8],[30,50],[32,54.4],[34,58.6],[36,61.5],[38,63.8],[40,64.8],[42,64.8],[45,64.6],[46,63.8],[48,64.2],[51,64.3],[52,64.5],[54,64],[55,64.3],[57,65.4],[59,66.1],[61,66.3],[64,66.5],[67,66.4],[68,67.1],[71,66.5],[72,66.5],[75,67.4],[79,69.3],[81,69],[84,66.3],[85,65.7],[88,62.3],[91,57.9],[93,56.8],[96,56.8],[98,58.3],[100,59.8],[102,60.3],[104,62.1],[107,63.2],[108,63.8],[111,63.6],[114,61.8],[118,60.8],[120,59.8],[122,58.8],[125,59.2],[129,59],[131,59],[134,58.8],[138,57.5],[139,56.7],[143,55.3],[148,52.3],[150,50.7],[153,46.9],[155,44.8],[157,41.9],[160,40.4],[162,37.6],[163,36.9],[165,39],[168,40.2],[171,40.5],[174,39.3],[176,41],[178,40.9],[180,38.6],[183,38.8],[185,40.7],[187,42.1],[189,42.1],[192,44.8],[194,45.5],[197,44],[200,41.7],[204,41.6],[209,42.9],[211,45.8],[214,46.8],[216,46.4],[217,47.9],[218,49.83]];

// last values pinned on the price scale
const priceTags = [
  { value: 53408.0, color: '#787b86', text: '#ffffff' },
  { value: 53303.6, color: '#ff9800', text: '#111111' },
  { value: 53289.6, color: '#9c27b0', text: '#ffffff' },
  { value: 53282.6, color: '#f23645', text: '#ffffff' },
  { value: 53277.9, color: '#2962ff', text: '#ffffff' },
  { value: 53263.3, color: '#4caf50', text: '#ffffff' },
  { value: 53262.1, color: '#fdd835', text: '#111111' },
  { value: 53116.1, color: '#787b86', text: '#ffffff' },
];
const lastPrice = 53431.4;
const countdown = '03:45';
const rsiTags = [
  { value: 66.26, color: '#7e57c2', text: '#ffffff' },
  { value: 49.83, color: '#fdd835', text: '#111111' },
];

const tfNames = ['D1', 'H4', 'H2', 'H1', 'M15', 'M5'];
const tfScores = [79, 74, 79, 100, 69, 53];
const tfTrends = ['강상승', '강상승', '강상승', '강상승', '상승', '상승'];

const CUR_BAR = 66.48;  // crosshair sits between two bars
const SESSION_BAR = 67;
const X_MIN = -0.466, X_MAX = 240.16;
const UP = '#ff5c6c', DOWN = '#3f99ff';
const GRID = '#232323';
const LABEL = '#a4a7af';
const FONT = 'Roboto';
const TICK_SIZE = 12.5;

Chart.defaults.font.family = FONT;

const table = document.getElementById('tfTable');
let rows = '<tr><td style="width:27px">TF</td><td style="width:28px;font-weight:normal">점수</td><td style="width:37px;font-weight:normal">추세</td></tr>';
tfNames.forEach((name, i) => {
  const bg = tfScores[i] >= 70 ? '#3e9647' : '#2a5a2f';
  rows += `<tr><td>${name}</td><td style="background:${bg}">${tfScores[i]}</td><td style="background:${bg};font-weight:normal">${tfTrends[i]}</td></tr>`;
});
table.innerHTML = rows;

function toPoints(pairs) {
  return pairs.map(([x, y]) => ({ x, y }));
}

function lineSet(pairs, color, width) {
  return {
    type: 'line',
    data: toPoints(pairs),
    borderColor: color,
    borderWidth: width || 1.33,
    pointRadius: 0,
    tension: 0,
    borderJoinStyle: 'round',
  };
}

const candleColors = closes.map((c, i) => (c >= opens[i] ? UP : DOWN));

// the panes have to line up exactly, so no room is kept for the tick labels
function fitY(scale) {
  scale.width = 71;
  scale.paddingTop = 0;
  scale.paddingBottom = 0;
}

function xAxis(showLabels, axisHeight) {
  return {
    type: 'linear',
    min: X_MIN,
    max: X_MAX,
    offset: false,
    border: { display: false },
    grid: { color: GRID, lineWidth: 1, offset: false, drawTicks: false },
    afterFit(scale) {
      scale.height = axisHeight;
      scale.paddingLeft = 0;
      scale.paddingRight = 0;
    },
    afterBuildTicks(axis) {
      axis.ticks = hourBars.map(value => ({ value }));
    },
    ticks: {
      display: showLabels,
      autoSkip: false,
      maxRotation: 0,
      color: LABEL,
      padding: 6,
      font: { size: TICK_SIZE },
      callback(value, i) {
        return hourLabels[i];
      },
    },
  };
}

function drawCrosshair(chart) {
  const { ctx, chartArea, scales } = chart;
  const { top, bottom } = chartArea;
  ctx.save();
  ctx.lineWidth = 1;
  ctx.strokeStyle = '#1b3f78';
  ctx.setLineDash([4, 4]);
  let x = Math.round(scales.x.getPixelForValue(SESSION_BAR)) + 0.5;
  ctx.beginPath();
  ctx.moveTo(x, top);
  ctx.lineTo(x, bottom);
  ctx.stroke();
  ctx.strokeStyle = '#2f7be0';
  ctx.setLineDash([5, 3]);
  x = Math.round(scales.x.getPixelForValue(CUR_BAR)) + 0.5;
  ctx.beginPath();
  ctx.moveTo(x, top);
  ctx.lineTo(x, bottom);
  ctx.stroke();
  ctx.restore();
}

function drawTag(ctx, left, width, center, height, color) {
  ctx.fillStyle = color;
  ctx.fillRect(left, center - height / 2, width, height);
}

const pricePlugin = {
  id: 'priceMarks',
  afterDatasetsDraw(chart) {
    const { ctx, chartArea, scales } = chart;
    drawCrosshair(chart);
    const y = Math.round(scales.y.getPixelForValue(lastPrice)) + 0.5;
    ctx.save();
    ctx.strokeStyle = '#3d99ff';
    ctx.lineWidth = 1;
    ctx.setLineDash([1, 3]);
    ctx.beginPath();
    ctx.moveTo(chartArea.left, y);
    ctx.lineTo(chartArea.right, y);
    ctx.stroke();
    ctx.restore();
  },
  afterDraw(chart) {
    const { ctx, scales } = chart;
    const left = 2017, width = 60, height = 17;
    ctx.save();
    ctx.font = TICK_SIZE + 'px ' + FONT;
    ctx.textBaseline = 'middle';
    // tags keep their price position and stack when they would overlap
    let prev = -100;
    priceTags.forEach(tag => {
      const center = Math.max(scales.y.getPixelForValue(tag.value), prev + 17);
      prev = center;
      drawTag(ctx, left, width, center, height, tag.color);
      ctx.fillStyle = tag.text;
      ctx.fillText(tag.value.toLocaleString('en-US', { minimumFractionDigits: 1 }), left + 8, center + 0.5);
    });
    const yLast = scales.y.getPixelForValue(lastPrice);
    ctx.fillStyle = '#3d99ff';
    ctx.fillRect(left, yLast - 8.5, width, 31);
    ctx.fillStyle = '#ffffff';
    ctx.fillText(lastPrice.toLocaleString('en-US', { minimumFractionDigits: 1 }), left + 8, yLast + 0.5);
    ctx.fillStyle = '#d5e8ff';
    ctx.fillText(countdown, left + 8, yLast + 14);
    ctx.restore();
  },
};

const priceChart = new Chart(document.getElementById('priceBox'), {
  type: 'bar',
  data: {
    datasets: [
      {
        label: 'body',
        data: opens.map((o, i) => ({ x: i, y: [o, closes[i]] })),
        backgroundColor: candleColors,
        borderWidth: 0,
        barThickness: 5.2,
        maxBarThickness: 5.2,
        minBarLength: 1.5,
        grouped: false,
        inflateAmount: 0,
      },
      {
        label: 'wick',
        data: highs.map((h, i) => ({ x: i, y: [lows[i], h] })),
        backgroundColor: candleColors,
        borderWidth: 0,
        barThickness: 1.33,
        maxBarThickness: 1.33,
        grouped: false,
        inflateAmount: 0,
      },
      lineSet(blueLine, '#2962ff'),
      lineSet(yellowLine, '#e0bd2c'),
      lineSet(redMiddle, '#c62c3c'),
      lineSet(redUpper, '#c02a3a'),
      lineSet(redLower, '#c02a3a'),
      lineSet(grayUpper, '#6a6c72'),
      lineSet(grayLower, '#6a6c72'),
      lineSet(purpleLine, '#8e24a0'),
      lineSet(orangeLine, '#e88e00'),
      lineSet(greenLine, '#3f9a45'),
    ],
  },
  plugins: [pricePlugin],
  options: {
    responsive: false,
    animation: false,
    events: [],
    layout: { autoPadding: false, padding: { left: 2, right: 0, top: 0, bottom: 0 } },
    plugins: { legend: { display: false }, tooltip: { enabled: false } },
    scales: {
      x: xAxis(false, 0),
      y: {
        position: 'right',
        min: 52951.6,
        max: 53743.4,
        border: { display: false },
        grid: { color: GRID, drawTicks: false },
        afterFit: fitY,
        afterBuildTicks(axis) {
          axis.ticks = priceTicks.map(value => ({ value }));
        },
        ticks: {
          color: LABEL,
          padding: 9,
          autoSkip: false,
          font: { size: TICK_SIZE },
          callback(value) {
            return value.toLocaleString('en-US', { minimumFractionDigits: 1 });
          },
        },
      },
    },
  },
});

const rsiPlugin = {
  id: 'rsiMarks',
  beforeDatasetsDraw(chart) {
    const { ctx, chartArea, scales } = chart;
    const { left, right } = chartArea;
    const y70 = scales.y.getPixelForValue(70), y30 = scales.y.getPixelForValue(30);
    ctx.save();
    ctx.fillStyle = '#181522';
    ctx.fillRect(left, y70, right - left, y30 - y70);
    ctx.strokeStyle = '#787b86';
    ctx.lineWidth = 1;
    ctx.setLineDash([4, 4]);
    rsiDashed.forEach(level => {
      const y = Math.round(scales.y.getPixelForValue(level)) + 0.5;
      ctx.beginPath();
      ctx.moveTo(left, y);
      ctx.lineTo(right, y);
      ctx.stroke();
    });
    ctx.restore();
  },
  afterDatasetsDraw(chart) {
    drawCrosshair(chart);
  },
  afterDraw(chart) {
    const { ctx, scales } = chart;
    ctx.save();
    ctx.font = TICK_SIZE + 'px ' + FONT;
    ctx.textBaseline = 'middle';
    rsiTags.forEach(tag => {
      const center = scales.y.getPixelForValue(tag.value);
      drawTag(ctx, 2017, 42.5, center, 17, tag.color);
      ctx.fillStyle = tag.text;
      ctx.fillText(tag.value.toFixed(2), 2024, center + 0.5);
    });
    ctx.restore();
  },
};

const rsiChart = new Chart(document.getElementById('rsiBox'), {
  type: 'line',
  data: {
    datasets: [
      { data: toPoints(rsiAverage), borderColor: '#e8c52e', borderWidth: 1.5, pointRadius: 0, tension: 0 },
      { data: rsiValues.map((y, x) => ({ x, y })), borderColor: '#6a4cb0', borderWidth: 1.1, pointRadius: 0, tension: 0 },
    ],
  },
  plugins: [rsiPlugin],
  options: {
    responsive: false,
    animation: false,
    events: [],
    layout: { autoPadding: false, padding: { left: 2, right: 0, top: 0, bottom: 0 } },
    plugins: { legend: { display: false }, tooltip: { enabled: false } },
    scales: {
      x: xAxis(true, 35),
      y: {
        position: 'right',
        min: 24.8,
        max: 83.8,
        border: { display: false },
        grid: {
          drawTicks: false,
          color: ctx => (rsiDashed.includes(ctx.tick.value) ? 'transparent' : GRID),
        },
        afterFit: fitY,
        afterBuildTicks(axis) {
          axis.ticks = rsiTicks.map(value => ({ value }));
        },
        ticks: {
          color: LABEL,
          padding: 9,
          font: { size: TICK_SIZE },
          callback(value) {
            return value.toFixed(2);
          },
        },
      },
    },
  },
});
</script>
</body>
</html>
